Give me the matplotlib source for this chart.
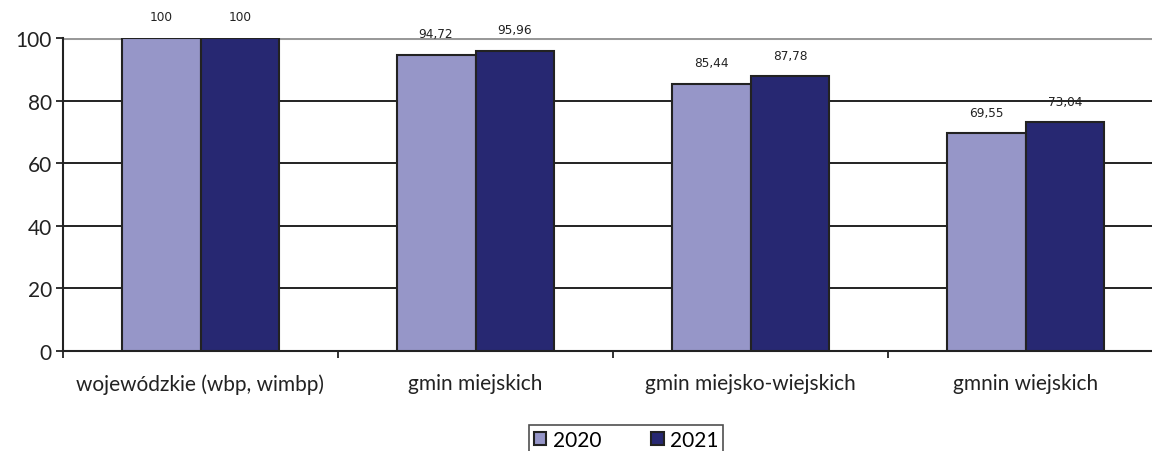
import matplotlib.pyplot as plt
import numpy as np

categories = ['wojewódzkie (wbp, wimbp)', 'gmin miejskich', 'gmin miejsko-wiejskich', 'gmnin wiejskich']
years = ['2020', '2021']
values_2020 = [100, 94.72, 85.44, 69.55]
values_2021 = [100, 95.96, 87.78, 73.04]
yticks = [0, 20, 40, 60, 80, 100]

col_2020 = '#9696c8'
col_2021 = '#272872'

fig = plt.figure(figsize=(11.52, 4.52), dpi=100)
# axes runs slightly past the right edge like in the original
ax = fig.add_axes([63 / 1152, 1 - 352 / 452, 1100 / 1152, 313 / 452])

x = np.arange(len(categories))
w = 0.287
b1 = ax.bar(x - w / 2, values_2020, w, color=col_2020, edgecolor='#222222', linewidth=1.5, label=years[0], zorder=3)
b2 = ax.bar(x + w / 2, values_2021, w, color=col_2021, edgecolor='#222222', linewidth=1.5, label=years[1], zorder=3)

for bars, vals in ((b1, values_2020), (b2, values_2021)):
    for r, v in zip(bars, vals):
        lbl = ('%.2f' % v).replace('.', ',') if v != 100 else '100'
        ax.annotate(lbl, (r.get_x() + r.get_width() / 2, v), xytext=(0, 10.5), textcoords='offset points',
                    ha='center', va='bottom', fontsize=8.7, color='#222222', family='DejaVu Sans')

# gridlines
for yv in yticks[1:-1]:
    ax.axhline(yv, color='#222222', lw=1.4, zorder=1)
ax.axhline(100, color='#999999', lw=2.2, zorder=1)

fs = 15
ax.set_xlim(-0.5, 3.5)
ax.set_ylim(0, 100)
ax.set_yticks(yticks)
ax.set_yticklabels([str(t) for t in yticks], family='Lato', fontsize=fs, color='#222222')
ax.set_xticks(x)
ax.set_xticklabels(categories, family='Lato', fontsize=fs, color='#222222')
ax.set_xticks(np.arange(-0.5, 4, 1), minor=True)
ax.tick_params(axis='x', which='major', length=0, pad=16)
ax.tick_params(axis='x', which='minor', length=5, width=1.3, direction='out', color='#222222')
ax.tick_params(axis='y', length=5, width=1.3, direction='out', color='#222222', pad=3)

for s in ['top', 'right']:
    ax.spines[s].set_visible(False)
for s in ['left', 'bottom']:
    ax.spines[s].set_linewidth(1.5)
    ax.spines[s].set_color('#222222')

leg = fig.legend(handles=[b1, b2], loc='upper center', bbox_to_anchor=(626 / 1152, 1 - 426 / 452), ncol=2,
                 frameon=True, fancybox=False, edgecolor='#222222', prop={'family': 'Lato', 'size': fs},
                 handlelength=0.6, handleheight=0.6, handletextpad=0.3, columnspacing=2.4,
                 borderpad=0.25, borderaxespad=0)
leg.get_frame().set_linewidth(1.2)

fig.savefig('out.png', dpi=100)
